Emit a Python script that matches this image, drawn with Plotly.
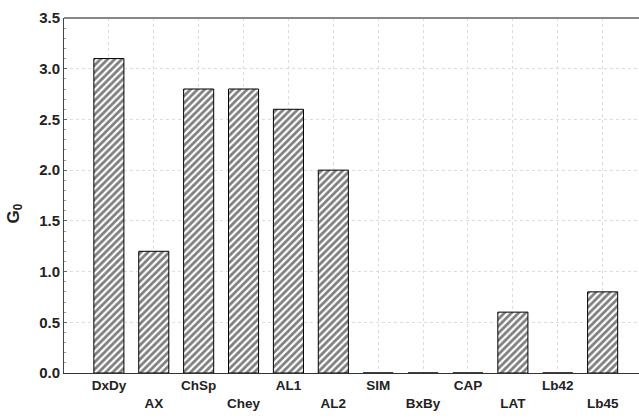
import plotly.graph_objects as go

categories = ["DxDy", "AX", "ChSp", "Chey", "AL1", "AL2", "SIM", "BxBy", "CAP", "LAT", "Lb42", "Lb45"]
values = [3.1, 1.2, 2.8, 2.8, 2.6, 2.0, 0.0, 0.0, 0.0, 0.6, 0.0, 0.8]
y_ticks = [0.0, 0.5, 1.0, 1.5, 2.0, 2.5, 3.0, 3.5]

xpos = list(range(len(categories)))
ticktext = [c if i % 2 == 0 else "<br>" + c for i, c in enumerate(categories)]

fig = go.Figure()
fig.add_trace(go.Bar(
    x=xpos, y=values, width=0.67,
    marker=dict(color="white",
                line=dict(color="black", width=1),
                pattern=dict(shape="/", fgcolor="black", bgcolor="white", size=5, solidity=0.55)),
))

font_bold = dict(family="Liberation Sans, Arial, sans-serif", size=13.5, color="#222", weight="bold")

fig.update_layout(
    width=639, height=418,
    margin=dict(l=64, r=0, t=18, b=45),
    plot_bgcolor="white", paper_bgcolor="white",
    showlegend=False,
    xaxis=dict(
        range=[-1, 11.81],
        tickmode="array", tickvals=xpos, ticktext=ticktext,
        tickfont=font_bold,
        showline=True, linecolor="#333", linewidth=1,
        showgrid=True, gridcolor="#dddddd", griddash="dot", gridwidth=1,
        ticks="", zeroline=False,
    ),
    yaxis=dict(
        range=[0, 3.5],
        tickmode="array", tickvals=y_ticks,
        ticktext=[f"{v:.1f}" for v in y_ticks],
        tickfont=dict(family="Liberation Sans, Arial, sans-serif", size=15, color="#222", weight="bold"),
        showline=True, linecolor="#444", linewidth=1,
        showgrid=True, gridcolor="#dddddd", griddash="dot", gridwidth=1,
        ticks="inside", ticklen=3, tickcolor="#666",
        minor=dict(ticks="inside", ticklen=2, dtick=0.1, tickcolor="#999", showgrid=False),
        zeroline=False,
    ),
)

# y-axis title placed as in the reference (slightly below the middle)
fig.add_annotation(text="G<sub>0</sub>", xref="paper", yref="paper",
                   x=-0.085, y=0.45, xanchor="center", yanchor="middle",
                   textangle=-90, showarrow=False,
                   font=dict(family="Liberation Sans, Arial, sans-serif", size=17, color="#222", weight="bold"))

# gray frame line at top of plot area
fig.add_shape(type="line", xref="paper", yref="paper", x0=0, x1=1, y0=1, y1=1,
              line=dict(color="#888", width=2))

fig.write_html("out.html")
